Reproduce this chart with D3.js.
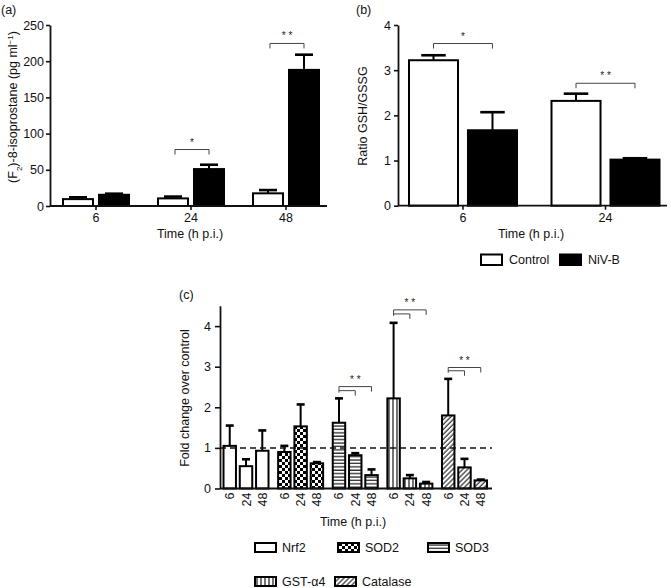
<!DOCTYPE html>
<html>
<head>
<meta charset="utf-8">
<script src="https://cdn.jsdelivr.net/npm/d3@7"></script>
<style>
  html, body { margin: 0; padding: 0; background: #fff; }
  svg text { font-family: "Liberation Sans", Arial, Helvetica, sans-serif; fill: #111; }
</style>
</head>
<body>
<svg id="chart" width="671" height="588"></svg>
<script>
// ---------- DATA ----------
// Panel (a): (F2)-8-isoprostane
const timesA = ["6", "24", "48"];
const controlA = [9.5, 10.5, 17.5];
const controlErrA = [2.5, 2.5, 4.5];
const nivA = [15.5, 51, 188];
const nivErrA = [1.5, 6, 21];
const yTicksA = [0, 50, 100, 150, 200, 250];
const sigA = [{ time: "24", level: 78, label: "*" }, { time: "48", level: 224.5, label: "* *" }];

// Panel (b): Ratio GSH/GSSG
const timesB = ["6", "24"];
const controlB = [3.22, 2.32];
const controlErrB = [0.11, 0.16];
const nivB = [1.67, 1.02];
const nivErrB = [0.40, 0.03];
const yTicksB = [0, 1, 2, 3, 4];
const sigB = [{ time: "6", level: 3.59, label: "*" }, { time: "24", level: 2.71, label: "* *" }];

// Panel (c): fold change over control
const genes = ["Nrf2", "SOD2", "SOD3", "GST-α4", "Catalase"];
const timesC = ["6", "24", "48"];
const foldNrf2 = [1.05, 0.55, 0.93];
const errNrf2 = [0.50, 0.17, 0.50];
const foldSOD2 = [0.90, 1.53, 0.62];
const errSOD2 = [0.15, 0.54, 0.03];
const foldSOD3 = [1.62, 0.82, 0.33];
const errSOD3 = [0.60, 0.05, 0.14];
const foldGST = [2.22, 0.25, 0.12];
const errGST = [1.86, 0.08, 0.04];
const foldCat = [1.80, 0.52, 0.20];
const errCat = [0.90, 0.21, 0.02];
const yTicksC = [0, 1, 2, 3, 4];
const sigC = [
  { gene: "SOD3", outer: 2.51, inner: 2.41 },
  { gene: "GST-α4", outer: 4.40, inner: 4.30 },
  { gene: "Catalase", outer: 2.98, inner: 2.90 }
];

// ---------- DRAWING ----------
const svg = d3.select("#chart");
const FONT = 12.5;
const intFmt = d3.format("d");

// patterns
const defs = svg.append("defs");
const pChk = defs.append("pattern").attr("id", "pSOD2").attr("patternUnits", "userSpaceOnUse")
  .attr("width", 6).attr("height", 6);
pChk.append("rect").attr("width", 6).attr("height", 6).attr("fill", "#fff");
pChk.append("rect").attr("width", 3).attr("height", 3).attr("fill", "#000");
pChk.append("rect").attr("x", 3).attr("y", 3).attr("width", 3).attr("height", 3).attr("fill", "#000");

const pH = defs.append("pattern").attr("id", "pSOD3").attr("patternUnits", "userSpaceOnUse")
  .attr("width", 4).attr("height", 3.4);
pH.append("rect").attr("width", 4).attr("height", 3.4).attr("fill", "#fff");
pH.append("line").attr("x1", 0).attr("x2", 4).attr("y1", 1).attr("y2", 1).attr("stroke", "#000").attr("stroke-width", 1.1);

const pV = defs.append("pattern").attr("id", "pGST").attr("patternUnits", "userSpaceOnUse")
  .attr("width", 4).attr("height", 4);
pV.append("rect").attr("width", 4).attr("height", 4).attr("fill", "#fff");
pV.append("line").attr("x1", 1).attr("x2", 1).attr("y1", 0).attr("y2", 4).attr("stroke", "#000").attr("stroke-width", 1.1);

const pD = defs.append("pattern").attr("id", "pCat").attr("patternUnits", "userSpaceOnUse")
  .attr("width", 3.5).attr("height", 3.5).attr("patternTransform", "rotate(45)");
pD.append("rect").attr("width", 3.5).attr("height", 3.5).attr("fill", "#fff");
pD.append("line").attr("x1", 1).attr("x2", 1).attr("y1", 0).attr("y2", 3.5).attr("stroke", "#000").attr("stroke-width", 1);

const geneFill = {
  "Nrf2": "#fff", "SOD2": "url(#pSOD2)", "SOD3": "url(#pSOD3)",
  "GST-α4": "url(#pGST)", "Catalase": "url(#pCat)"
};

function styleAxis(g) {
  g.selectAll("path.domain").attr("stroke", "#111").attr("stroke-width", 1.8);
  g.selectAll(".tick line").attr("stroke", "#111").attr("stroke-width", 1.6);
  g.selectAll(".tick text").style("font-size", FONT + "px")
    .style("font-family", '"Liberation Sans", Arial, sans-serif').attr("fill", "#111");
}

function errorBar(g, cx, yTop, yErr, capW) {
  g.append("line").attr("x1", cx).attr("x2", cx).attr("y1", yTop).attr("y2", yErr)
    .attr("stroke", "#000").attr("stroke-width", 2);
  g.append("line").attr("x1", cx - capW / 2).attr("x2", cx + capW / 2).attr("y1", yErr).attr("y2", yErr)
    .attr("stroke", "#000").attr("stroke-width", 2.6);
}

function bracket(g, x0, x1, y) {
  g.append("path").attr("d", `M${x0},${y + 5}V${y}H${x1}V${y + 5}`)
    .attr("fill", "none").attr("stroke", "#444").attr("stroke-width", 1);
}

function stars(g, x, y, label) {
  g.append("text").attr("x", x).attr("y", y).attr("text-anchor", "middle")
    .style("font-size", "10px").style("fill", "#222").text(label);
}

// ----- Panel (a) -----
{
  const g = svg.append("g");
  const x = d3.scaleBand().domain(timesA).range([48.5, 333.5]);
  const inner = d3.scaleBand().domain(["Control", "NiV-B"]).range([-33, 33]).paddingInner(0.167);
  const y = d3.scaleLinear().domain([0, 250]).range([206, 25]);

  const cx = t => x(t) + x.bandwidth() / 2;

  timesA.forEach((t, i) => {
    [["Control", controlA[i], controlErrA[i], "#fff"], ["NiV-B", nivA[i], nivErrA[i], "#000"]].forEach(([s, v, e, f]) => {
      const bx = cx(t) + inner(s);
      const bw = inner.bandwidth();
      errorBar(g, bx + bw / 2, y(v), y(v + e), bw * 0.6);
      g.append("rect").attr("x", bx).attr("y", y(v)).attr("width", bw).attr("height", y(0) - y(v))
        .attr("fill", f).attr("stroke", "#000").attr("stroke-width", 2);
    });
  });

  const ya = g.append("g").attr("transform", "translate(50,0)")
    .call(d3.axisLeft(y).tickValues(yTicksA).tickFormat(intFmt).tickSize(4).tickPadding(2).tickSizeOuter(0));
  styleAxis(ya);
  const xa = g.append("g").attr("transform", `translate(0,${y(0)})`)
    .call(d3.axisBottom(x).tickSize(4).tickPadding(3));
  xa.select("path.domain").remove();
  styleAxis(xa);
  g.append("line").attr("x1", 50).attr("x2", 327).attr("y1", y(0)).attr("y2", y(0))
    .attr("stroke", "#111").attr("stroke-width", 1.8);

  sigA.forEach(s => {
    const x0 = cx(s.time) + inner("Control") + inner.bandwidth() / 2 + 2;
    const x1 = cx(s.time) + inner("NiV-B") + inner.bandwidth() / 2;
    bracket(g, x0, x1, y(s.level));
    stars(g, (x0 + x1) / 2, y(s.level) - 4, s.label);
  });

  g.append("text").attr("x", 190).attr("y", 238).attr("text-anchor", "middle").style("font-size", FONT + "px").text("Time (h p.i.)");
  const yl = g.append("text").attr("transform", "translate(17,107) rotate(-90)").attr("text-anchor", "middle")
    .style("font-size", FONT + "px");
  yl.append("tspan").text("(F");
  yl.append("tspan").attr("baseline-shift", "sub").style("font-size", "8px").text("2");
  yl.append("tspan").text(")-8-isoprostane (pg ml");
  yl.append("tspan").attr("baseline-shift", "super").style("font-size", "8px").text("−1");
  yl.append("tspan").text(")");
  g.append("text").attr("x", 1).attr("y", 14).style("font-size", FONT + "px").text("(a)");
}

// ----- Panel (b) -----
{
  const g = svg.append("g");
  const x = d3.scaleBand().domain(timesB).range([391.75, 676.75]);
  const inner = d3.scaleBand().domain(["Control", "NiV-B"]).range([-54, 54]).paddingInner(0.169);
  const y = d3.scaleLinear().domain([0, 4]).range([205.7, 25]);
  const cx = t => x(t) + x.bandwidth() / 2;

  timesB.forEach((t, i) => {
    [["Control", controlB[i], controlErrB[i], "#fff"], ["NiV-B", nivB[i], nivErrB[i], "#000"]].forEach(([s, v, e, f]) => {
      const bx = cx(t) + inner(s);
      const bw = inner.bandwidth();
      errorBar(g, bx + bw / 2, y(v), y(v + e), bw * 0.5);
      g.append("rect").attr("x", bx).attr("y", y(v)).attr("width", bw).attr("height", y(0) - y(v))
        .attr("fill", f).attr("stroke", "#000").attr("stroke-width", 2);
    });
  });

  const ya = g.append("g").attr("transform", "translate(398,0)")
    .call(d3.axisLeft(y).tickValues(yTicksB).tickFormat(intFmt).tickSize(4).tickPadding(3).tickSizeOuter(0));
  styleAxis(ya);
  const xa = g.append("g").attr("transform", `translate(0,${y(0)})`)
    .call(d3.axisBottom(x).tickSize(4).tickPadding(3));
  xa.select("path.domain").remove();
  styleAxis(xa);
  g.append("line").attr("x1", 398).attr("x2", 667).attr("y1", y(0)).attr("y2", y(0))
    .attr("stroke", "#111").attr("stroke-width", 1.8);

  sigB.forEach(s => {
    const x0 = cx(s.time) + inner("Control") + inner.bandwidth() / 2;
    const x1 = cx(s.time) + inner("NiV-B") + inner.bandwidth() / 2;
    bracket(g, x0, x1, y(s.level));
    stars(g, (x0 + x1) / 2, y(s.level) - 4, s.label);
  });

  g.append("text").attr("x", 531).attr("y", 238).attr("text-anchor", "middle").style("font-size", FONT + "px").text("Time (h p.i.)");
  g.append("text").attr("transform", "translate(367,116) rotate(-90)").attr("text-anchor", "middle")
    .style("font-size", FONT + "px").text("Ratio GSH/GSSG");
  g.append("text").attr("x", 356).attr("y", 14).style("font-size", FONT + "px").text("(b)");

  const leg = [["Control", "#fff", 481], ["NiV-B", "#000", 560]];
  leg.forEach(([name, f, lx]) => {
    g.append("rect").attr("x", lx).attr("y", 254.5).attr("width", 21).attr("height", 10.5)
      .attr("fill", f).attr("stroke", "#000").attr("stroke-width", 2);
    g.append("text").attr("x", lx + 28).attr("y", 264).style("font-size", FONT + "px").text(name);
  });
}

// ----- Panel (c) -----
{
  const g = svg.append("g");
  const x = d3.scaleBand().domain(genes).range([218.7, 491.8]);
  const inner = d3.scaleBand().domain(timesC).range([-22.5, 22.5]).paddingInner(0.235);
  const y = d3.scaleLinear().domain([0, 4.5]).range([488.5, 305.8]);
  const gc = gn => x(gn) + x.bandwidth() / 2;
  const bc = (gn, t) => gc(gn) + inner(t) + inner.bandwidth() / 2;

  const series = {
    "Nrf2": [foldNrf2, errNrf2], "SOD2": [foldSOD2, errSOD2], "SOD3": [foldSOD3, errSOD3],
    "GST-α4": [foldGST, errGST], "Catalase": [foldCat, errCat]
  };

  genes.forEach(gn => {
    const [vals, errs] = series[gn];
    timesC.forEach((t, i) => {
      const bx = gc(gn) + inner(t);
      const bw = inner.bandwidth();
      errorBar(g, bx + bw / 2, y(vals[i]), y(vals[i] + errs[i]), 8);
      g.append("rect").attr("x", bx).attr("y", y(vals[i])).attr("width", bw).attr("height", y(0) - y(vals[i]))
        .attr("fill", geneFill[gn]).attr("stroke", "#000").attr("stroke-width", 2);
    });
  });

  g.append("line").attr("x1", 220).attr("x2", 492).attr("y1", y(1)).attr("y2", y(1))
    .attr("stroke", "#111").attr("stroke-width", 1.5).attr("stroke-dasharray", "6,4");

  const ya = g.append("g").attr("transform", "translate(220,0)")
    .call(d3.axisLeft(y).tickValues(yTicksC).tickFormat(intFmt).tickSize(5).tickPadding(4).tickSizeOuter(0));
  styleAxis(ya);
  g.append("line").attr("x1", 220).attr("x2", 492).attr("y1", y(0)).attr("y2", y(0))
    .attr("stroke", "#111").attr("stroke-width", 1.8);

  genes.forEach(gn => {
    timesC.forEach(t => {
      g.append("text").attr("transform", `translate(${bc(gn, t) + 4.5},${y(0) + 4}) rotate(-90)`)
        .attr("text-anchor", "end").style("font-size", FONT + "px").text(t);
    });
  });

  sigC.forEach(s => {
    const x0 = bc(s.gene, "6"), x1 = bc(s.gene, "24"), x2 = bc(s.gene, "48");
    const yo = y(s.outer), yi = y(s.inner);
    g.append("path").attr("d", `M${x0},${yi + 2}V${yo}H${x2}V${yo + 5}`)
      .attr("fill", "none").attr("stroke", "#444").attr("stroke-width", 1);
    g.append("path").attr("d", `M${x0},${yi}H${x1}V${yi + 5}`)
      .attr("fill", "none").attr("stroke", "#444").attr("stroke-width", 1);
    stars(g, x1, yo - 4, "* *");
  });

  g.append("text").attr("x", 353).attr("y", 526).attr("text-anchor", "middle").style("font-size", FONT + "px").text("Time (h p.i.)");
  g.append("text").attr("transform", "translate(189,398) rotate(-90)").attr("text-anchor", "middle")
    .style("font-size", FONT + "px").text("Fold change over control");
  g.append("text").attr("x", 179).attr("y", 299).style("font-size", FONT + "px").text("(c)");

  const legPos = [
    ["Nrf2", 255, 543], ["SOD2", 338, 543], ["SOD3", 428, 543],
    ["GST-α4", 255, 577], ["Catalase", 335, 577]
  ];
  legPos.forEach(([gn, lx, ly]) => {
    g.append("rect").attr("x", lx).attr("y", ly).attr("width", 21).attr("height", 9)
      .attr("fill", geneFill[gn]).attr("stroke", "#000").attr("stroke-width", 2);
    g.append("text").attr("x", lx + 27).attr("y", ly + 9).style("font-size", FONT + "px").text(gn);
  });
}
</script>
</body>
</html>
